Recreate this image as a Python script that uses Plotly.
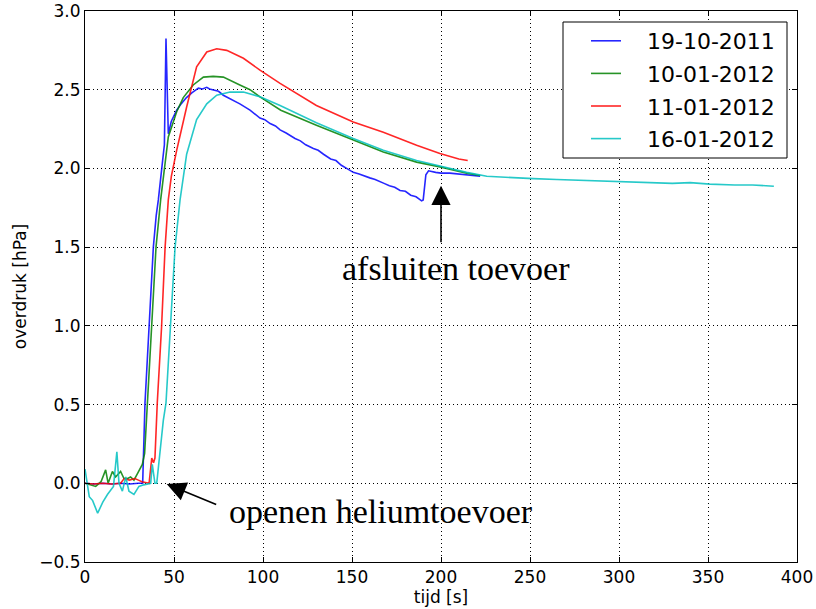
import plotly.graph_objects as go

# ---- data ----
t_blue = [0, 5, 10, 15, 20, 25, 30, 32.4, 33.7, 36.1, 38.4, 40, 41.2, 43.6, 44.6, 45.5, 46.8,
          48.5, 51.5, 54, 57, 60, 63.7, 66, 68.4, 70, 72, 75, 77.7, 82, 87, 92.7, 98.3, 101, 104,
          107, 109.6, 113, 118, 121, 124, 128.3, 131, 134, 138, 141, 144, 147, 150.7, 154, 157,
          160, 163, 165.7, 168, 171, 174, 177, 180, 183, 186, 189.1, 190, 191.5, 193, 197, 200,
          205, 210, 214.4, 218, 222]
p_blue = [0.0, -0.005, 0.0, -0.005, 0.0, -0.005, 0.0, 0.0, 0.51, 0.99, 1.5, 1.7, 1.8, 2.05, 2.15,
          2.825, 2.22, 2.3, 2.37, 2.41, 2.45, 2.48, 2.51, 2.505, 2.515, 2.505, 2.50, 2.49, 2.465,
          2.44, 2.41, 2.37, 2.32, 2.31, 2.285, 2.27, 2.245, 2.225, 2.19, 2.175, 2.15, 2.126, 2.115,
          2.09, 2.06, 2.05, 2.02, 2.0, 1.975, 1.965, 1.95, 1.94, 1.93, 1.914, 1.905, 1.89, 1.88,
          1.86, 1.855, 1.83, 1.82, 1.794, 1.80, 1.96, 1.985, 1.975, 1.97, 1.97, 1.965, 1.96,
          1.955, 1.95]

t_green = [0, 3, 6, 9, 11.6, 13, 15.4, 17.2, 20, 21.9, 24, 25.6, 27.5, 29.4, 32.2, 33.5, 35,
           37.5, 39.9, 42.5, 44, 46.8, 51.5, 55.2, 60.8, 66.5, 72, 77.7, 87, 92.7, 98.3, 110,
           130, 150.7, 167.6, 186.3, 199.4, 214.4, 222]
p_green = [0.0, -0.01, -0.02, 0.01, 0.085, 0.0, 0.075, 0.04, 0.075, 0.03, 0.03, 0.04, 0.02, 0.06,
           0.12, 0.19, 0.51, 0.99, 1.5, 1.8, 1.95, 2.2, 2.36, 2.45, 2.53, 2.58, 2.585, 2.58, 2.53,
           2.50, 2.455, 2.37, 2.275, 2.18, 2.105, 2.04, 2.01, 1.97, 1.955]

t_red = [0, 5, 10, 15, 20, 22, 25, 28, 30, 32, 36, 37.5, 38.5, 39.3, 40.6, 43, 45, 46.8, 48.5,
         51.5, 57.1, 62.7, 68.4, 74, 79.6, 89, 98.3, 109.6, 130, 150.7, 167.6, 186.3, 199.4,
         210, 215]
p_red = [0.0, -0.005, 0.0, -0.005, 0.0, 0.03, 0.02, 0.03, 0.02, 0.01, 0.0, 0.16, 0.13, 0.16,
         0.51, 0.99, 1.5, 1.8, 1.95, 2.115, 2.39, 2.645, 2.74, 2.76, 2.75, 2.70, 2.624, 2.54,
         2.40, 2.295, 2.23, 2.147, 2.095, 2.06, 2.05]

t_cyan = [0, 2.4, 4.3, 7.1, 10, 12.7, 16, 17.9, 19.1, 21, 22.9, 24.7, 27.5, 30.3, 33, 36.9,
          37.8, 39.3, 40.3, 42, 44, 45.5, 47.8, 50.6, 53.4, 57.1, 62.7, 68.4, 74, 81.5, 89, 98.3,
          109.6, 130, 150.7, 167.6, 186.3, 201.3, 214.4, 225.7, 240, 251.9, 265, 280, 290, 300.6,
          315, 330, 340, 351, 365, 375, 387]
p_cyan = [0.09, -0.085, -0.11, -0.19, -0.12, -0.07, -0.02, 0.2, 0.0, -0.05, 0.04, -0.05, -0.07,
          -0.02, -0.01, 0.0, 0.12, 0.0, 0.0, 0.2, 0.4, 0.51, 0.99, 1.5, 1.8, 2.09, 2.31, 2.41,
          2.465, 2.485, 2.485, 2.455, 2.40, 2.29, 2.19, 2.115, 2.05, 2.01, 1.975, 1.95, 1.94,
          1.935, 1.93, 1.925, 1.92, 1.915, 1.91, 1.905, 1.91, 1.90, 1.895, 1.895, 1.887]

labels = ["19-10-2011", "10-01-2012", "11-01-2012", "16-01-2012"]
colors = ["rgba(0,0,255,0.85)", "rgba(0,128,0,0.85)", "rgba(255,0,0,0.85)", "rgba(0,191,191,0.85)"]

x_ticks = [0, 50, 100, 150, 200, 250, 300, 350, 400]
y_ticks = [-0.5, 0.0, 0.5, 1.0, 1.5, 2.0, 2.5, 3.0]

W, H = 816, 609
ML, MR, MT, MB = 85, 19, 11, 47
PW, PH = W - ML - MR, H - MT - MB


def px_x(p):
    return (p - ML) / PW


def px_y(p):
    return (H - MB - p) / PH


fig = go.Figure()
series = [(t_blue, p_blue), (t_green, p_green), (t_red, p_red), (t_cyan, p_cyan)]
for (tt, pp), lab, col in zip(series, labels, colors):
    fig.add_trace(go.Scatter(x=tt, y=pp, mode="lines", name="\u00a0\u00a0\u00a0" + lab,
                             legendgroup=lab, line=dict(color=col, width=1.6)))

axis_common = dict(showline=True, linecolor="black", linewidth=1, mirror="allticks",
                   ticks="inside", ticklen=5, tickcolor="black", tickwidth=1,
                   showgrid=True, gridcolor="black", gridwidth=1, griddash="1px,3px",
                   zeroline=False, automargin=False, ticklabeloverflow="allow",
                   tickfont=dict(family="DejaVu Sans", size=17, color="black"))

fig.update_xaxes(range=[0, 400], tickvals=x_ticks,
                 title=dict(text="tijd [s]", font=dict(family="DejaVu Sans", size=17, color="black"),
                            standoff=2),
                 **axis_common)
fig.update_yaxes(range=[-0.5, 3.0], tickvals=y_ticks, tickformat=".1f",
                 title=dict(text="overdruk [hPa]", font=dict(family="DejaVu Sans", size=17, color="black"),
                            standoff=8),
                 **axis_common)

serif = dict(family="Liberation Serif", size=34, color="black")
arrow = dict(showarrow=True, arrowhead=2, arrowsize=2.4, arrowwidth=1.6, arrowcolor="black")
fig.add_annotation(x=45.9, y=-0.005, ax=51, ay=21, text="", **arrow)
fig.add_annotation(x=79.9, y=-0.181, text="openen heliumtoevoer", showarrow=False,
                   xanchor="left", yanchor="middle", font=serif)
fig.add_annotation(x=200, y=1.89, ax=0, ay=58, text="", **arrow)
fig.add_annotation(x=208.3, y=1.365, text="afsluiten toevoer", showarrow=False,
                   xanchor="center", yanchor="middle", font=serif)

# legend frame
fig.add_shape(type="rect", xref="paper", yref="paper",
              x0=px_x(563), x1=px_x(787), y0=px_y(158), y1=px_y(22),
              line=dict(color="black", width=1), fillcolor="white", layer="above")

fig.update_layout(
    width=W, height=H,
    margin=dict(l=ML, r=MR, t=MT, b=MB),
    plot_bgcolor="white", paper_bgcolor="white",
    legend=dict(x=px_x(586), y=px_y(20), xanchor="left", yanchor="top",
                bgcolor="rgba(0,0,0,0)", borderwidth=0,
                font=dict(family="DejaVu Sans", size=22, color="black"),
                itemwidth=30, tracegroupgap=1),
    showlegend=True,
)

fig.write_html("out.html", config={"displayModeBar": False},
               post_script="document.body.style.margin='0';")
